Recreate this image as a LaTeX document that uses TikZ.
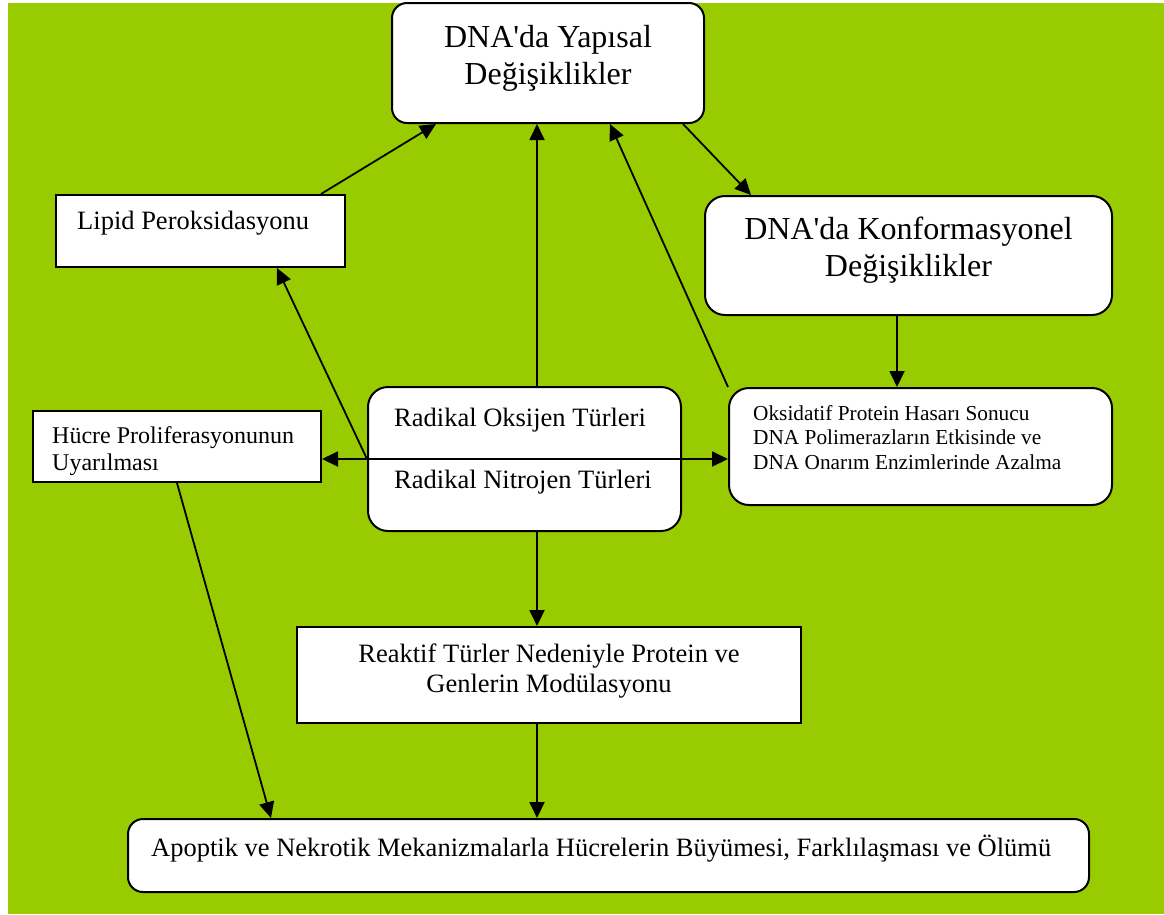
\documentclass[tikz,border=0pt]{standalone}
\usepackage{fontspec}
\setmainfont{Liberation Serif}
\usetikzlibrary{arrows.meta,positioning,calc}
\definecolor{leafgreen}{RGB}{153,204,0}
\newcommand\fsHead{\fontsize{32}{36.5}\selectfont}
\newcommand\fsBody{\fontsize{26.5}{30}\selectfont}
\newcommand\fsHucre{\fontsize{24}{26.5}\selectfont}
\newcommand\fsOks{\fontsize{21.3}{24.5}\selectfont}

\begin{document}
\begin{tikzpicture}[x=1pt,y=-1pt,
    box/.style={draw=black, line width=2pt, fill=white, inner sep=0pt},
    rbox/.style={box, rounded corners=#1},
    rbox/.default=20pt,
    lbl/.style={inner sep=0pt},
    arr/.style={line width=1.8pt, -{Triangle[length=16pt,width=15pt]}},
    arrboth/.style={line width=1.8pt, {Triangle[length=16pt,width=15pt]}-{Triangle[length=16pt,width=15pt]}}]

    \useasboundingbox[fill=white] (0,0) rectangle (1164,914);
    \fill[leafgreen] (8,3) rectangle (1164,914);

    \node[rbox=15pt, minimum width=312pt, minimum height=120pt] (yapisal) at (548,63) {};
    \node[rbox, minimum width=407pt, minimum height=119pt] (konform) at (908.5,255.5) {};
    \node[box, minimum width=289pt, minimum height=72pt] (lipid) at (200.5,231) {};
    \node[rbox, minimum width=383pt, minimum height=117pt] (oksid) at (920.5,446.5) {};
    \node[box, minimum width=288pt, minimum height=71pt] (hucre) at (177,446.5) {};
    \node[rbox, minimum width=313pt, minimum height=144pt] (radikal) at (524.5,459) {};
    \node[box, minimum width=504pt, minimum height=96pt] (reaktif) at (549,675) {};
    \node[rbox=15pt, minimum width=961pt, minimum height=73pt] (apoptik) at (608.5,855.5) {};

    \node[lbl, anchor=base, align=center, font=\fsHead] (yapisalT) at ([yshift=40pt]yapisal.south)
        {DNA\textquotesingle da Yapısal\\Değişiklikler};
    \node[lbl, anchor=base, align=center, font=\fsHead] (konformT) at ([yshift=40pt]konform.south)
        {DNA\textquotesingle da Konformasyonel\\Değişiklikler};
    \node[lbl, anchor=base west, font=\fsBody] (lipidT) at ([shift={(22,35)}]lipid.north west)
        {Lipid Peroksidasyonu};
    \node[lbl, anchor=base west, align=left, font=\fsOks] (oksidT) at ([shift={(25,82)}]oksid.north west)
        {Oksidatif Protein Hasarı Sonucu\\DNA Polimerazların Etkisinde ve\\DNA Onarım Enzimlerinde Azalma};
    \node[lbl, anchor=base west, align=left, font=\fsHucre] (hucreT) at ([shift={(20,60)}]hucre.north west)
        {Hücre Proliferasyonunun\\Uyarılması};
    \node[lbl, anchor=base west, align=left, font=\fsBody] (radikalT) at ([shift={(27,102)}]radikal.north west)
        {Radikal Oksijen Türleri\\[32pt]Radikal Nitrojen Türleri};
    \node[lbl, anchor=base, align=center, font=\fsBody] (reaktifT) at ([shift={(0,66)}]reaktif.north)
        {Reaktif Türler Nedeniyle Protein ve\\Genlerin Modülasyonu};
    \node[lbl, anchor=base west, font=\fsBody] (apoptikT) at ([shift={(24,38)}]apoptik.north west)
        {Apoptik ve Nekrotik Mekanizmalarla Hücrelerin Büyümesi, Farklılaşması ve Ölümü};

    \draw[arr] ([xshift=-25pt]lipid.north east) -- ([xshift=45pt]yapisal.south west);
    \draw[arr] ([xshift=12.5pt]radikal.north) -- ([xshift=-11pt]yapisal.south);
    \draw[arr] (oksid.north west) -- ([xshift=62pt]yapisal.south);
    \draw[arr] ([xshift=-22pt]yapisal.south east) -- ([xshift=47pt]konform.north west);
    \draw[arr] ([xshift=-11.5pt]konform.south) -- ([xshift=-23.5pt]oksid.north);
    \draw[arr] (radikal.west) -- ([xshift=76.5pt]lipid.south);
    \draw[arrboth] (radikal.west -| hucre.east) -- (radikal.east -| oksid.west);
    \draw[arr] ([xshift=12.5pt]radikal.south) -- ([xshift=-12pt]reaktif.north);
    \draw[arr] ([xshift=-12pt]reaktif.south) -- ([xshift=-71.5pt]apoptik.north);
    \draw[arr] (hucre.south) -- ([xshift=144pt]apoptik.north west);
\end{tikzpicture}
\end{document}
